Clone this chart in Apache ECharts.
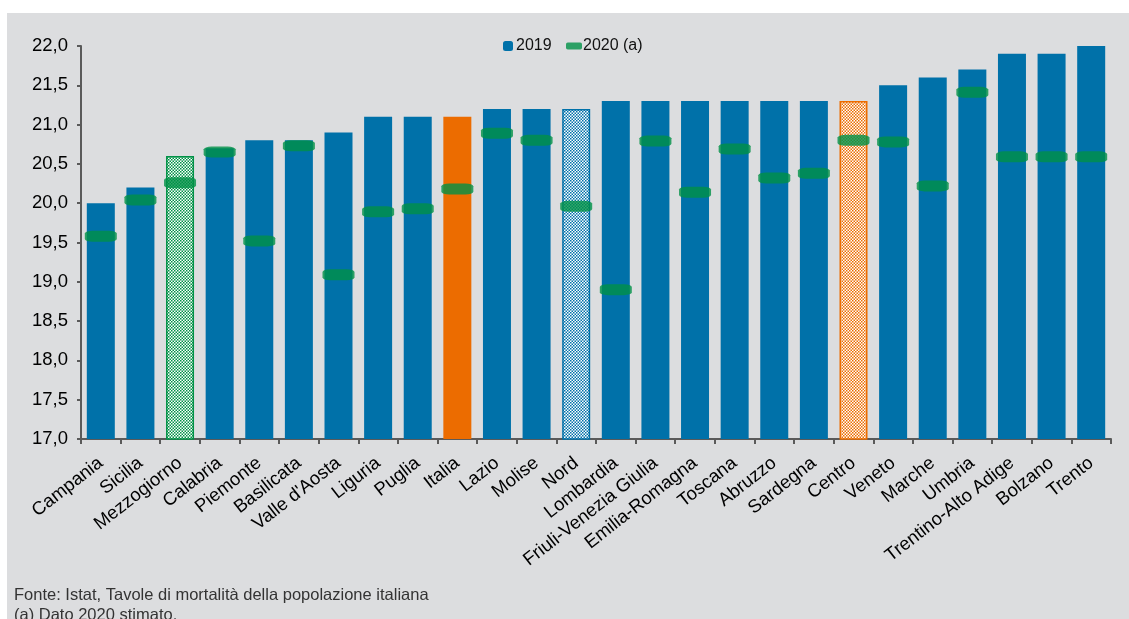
<!DOCTYPE html>
<html>
<head>
<meta charset="utf-8">
<script src="https://cdn.jsdelivr.net/npm/echarts@6/dist/echarts.min.js"></script>
<style>
html,body{margin:0;padding:0;background:#fff;}
#c{width:1129px;height:619px;}
</style>
</head>
<body>
<div id="c"></div>
<script>
const categories = ["Campania","Sicilia","Mezzogiorno","Calabria","Piemonte","Basilicata","Valle d'Aosta","Liguria","Puglia","Italia","Lazio","Molise","Nord","Lombardia","Friuli-Venezia Giulia","Emilia-Romagna","Toscana","Abruzzo","Sardegna","Centro","Veneto","Marche","Umbria","Trentino-Alto Adige","Bolzano","Trento"];
const values2019 = [20.0,20.2,20.6,20.7,20.8,20.8,20.9,21.1,21.1,21.1,21.2,21.2,21.2,21.3,21.3,21.3,21.3,21.3,21.3,21.3,21.5,21.6,21.7,21.9,21.9,22.0];
const values2020 = [19.58,20.04,20.26,20.65,19.52,20.73,19.09,19.89,19.93,20.18,20.89,20.80,19.96,18.90,20.79,20.14,20.69,20.32,20.38,20.80,20.78,20.22,21.41,20.59,20.59,20.59];
const yTicks = {min:17, max:22, interval:0.5};
const footnotes = ["Fonte: Istat, Tavole di mortalità della popolazione italiana","(a) Dato 2020 stimato."];

const BLUE = '#0071a9', ORANGE = '#ec6c00', GREEN = '#009146';
function checker(col){
  const c = document.createElement('canvas'); c.width = 3; c.height = 3;
  const g = c.getContext('2d');
  g.fillStyle = '#ffffff'; g.fillRect(0,0,3,3);
  g.fillStyle = col;
  g.fillRect(0,0,1.5,1.5); g.fillRect(1.5,1.5,1.5,1.5);
  return {image:c, repeat:'repeat'};
}
const special = {
  "Italia": {color: ORANGE},
  "Mezzogiorno": {color: checker(GREEN), borderColor: GREEN, borderWidth: 1.5},
  "Nord": {color: checker(BLUE), borderColor: BLUE, borderWidth: 1.5},
  "Centro": {color: checker(ORANGE), borderColor: ORANGE, borderWidth: 1.5}
};
const barData = values2019.map((v,i)=>{
  const s = special[categories[i]];
  return s ? {value:v, itemStyle:s} : v;
});

const chart = echarts.init(document.getElementById('c'), null, {renderer:'canvas'});
chart.setOption({
  backgroundColor: '#ffffff',
  animation: false,
  textStyle: {fontFamily: 'Liberation Sans, Arial, sans-serif'},
  graphic: [
    {type:'rect', z:-10, shape:{x:7, y:13, width:1122, height:606}, style:{fill:'#dcdddf'}, silent:true},
    {type:'text', left:14, top:585.5, style:{text: footnotes.join('\n'), fontSize:16.5, lineHeight:20, fill:'#333333', fontFamily:'Liberation Sans, Arial'}}
  ],
  legend: [
    {data:['2019'], left:498, top:33, itemWidth:10, itemHeight:10, itemGap:0, textStyle:{fontSize:16, color:'#111', padding:[0,0,0,-2]}},
    {data:[{name:'2020 (a)', icon:'roundRect'}], left:561, top:33, itemWidth:16, itemHeight:7, textStyle:{fontSize:16, color:'#111', padding:[0,0,0,-4]}}
  ],
  grid: {left:81, right:18, top:46, bottom:180, containLabel:false},
  xAxis: {
    type:'category', data:categories, boundaryGap:true,
    axisLine:{lineStyle:{color:'#5a5a5a', width:2}},
    axisTick:{show:true, length:5, alignWithLabel:false, lineStyle:{color:'#5a5a5a', width:2}},
    axisLabel:{rotate:38, interval:0, fontSize:18.5, color:'#000', margin:22}
  },
  yAxis: {
    type:'value', min:yTicks.min, max:yTicks.max, interval:yTicks.interval,
    axisLine:{show:true, lineStyle:{color:'#5a5a5a', width:2}},
    axisTick:{show:true, length:4, lineStyle:{color:'#5a5a5a', width:2}},
    splitLine:{show:false},
    axisLabel:{fontSize:18.5, color:'#000', margin:13, formatter:v=>v.toFixed(1).replace('.',',')}
  },
  series: [
    {name:'2019', type:'bar', data:barData, barWidth:28, itemStyle:{color:BLUE}, z:2},
    {name:'2020 (a)', type:'scatter', data:values2020, symbol:'roundRect', symbolSize:[32,11], itemStyle:{color:GREEN}, z:5}
  ]
});
</script>
</body>
</html>
